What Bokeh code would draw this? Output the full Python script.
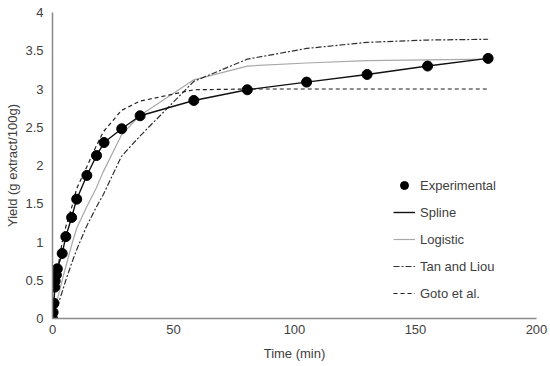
from bokeh.plotting import figure
from bokeh.models import Range1d, FixedTicker, Legend, LegendItem
from bokeh.embed import file_html
from bokeh.resources import INLINE

# Experimental data
t_exp = [0, 0.25, 0.6, 0.9, 1.1, 1.6, 2.0, 4.0, 5.5, 7.9, 10.0, 14.2, 18.2, 21.3, 28.6, 36.2, 58.4, 80.5, 105, 130, 155, 180]
y_exp = [0.0, 0.08, 0.20, 0.41, 0.49, 0.57, 0.65, 0.85, 1.07, 1.32, 1.56, 1.87, 2.13, 2.30, 2.48, 2.65, 2.85, 2.99, 3.09, 3.19, 3.30, 3.40]

# Model curves
t_model = [0, 1, 2, 4, 5.5, 8, 10, 14, 18, 21, 28.5, 36, 58.4, 80.5, 105, 130, 155, 180]
logistic = [0, 0.12, 0.25, 0.50, 0.68, 0.97, 1.18, 1.45, 1.70, 1.92, 2.40, 2.65, 3.12, 3.30, 3.34, 3.37, 3.38, 3.39]
tan_liou = [0, 0.07, 0.15, 0.35, 0.50, 0.73, 0.90, 1.20, 1.45, 1.62, 2.12, 2.38, 3.10, 3.39, 3.53, 3.61, 3.64, 3.65]
goto = [0, 0.38, 0.62, 1.00, 1.20, 1.46, 1.70, 1.97, 2.25, 2.44, 2.72, 2.84, 2.99, 3.00, 3.00, 3.00, 3.00, 3.00]

x_ticks = [0, 50, 100, 150, 200]
y_ticks = [0, 0.5, 1, 1.5, 2, 2.5, 3, 3.5, 4]
y_tick_labels = ["0", "0.5", "1", "1.5", "2", "2.5", "3", "3.5", "4"]

FONT = "Liberation Sans"
TXT = "#404040"

p = figure(width=550, height=366, output_backend="svg", toolbar_location=None,
           x_range=Range1d(0, 200), y_range=Range1d(0, 4),
           min_border_left=52, min_border_right=14, min_border_top=12, min_border_bottom=48)
p.outline_line_color = None
p.grid.visible = False

for ax in (p.xaxis[0], p.yaxis[0]):
    ax.axis_line_color = "#8a8a8a"
    ax.axis_line_width = 1.5
    ax.major_tick_line_color = None
    ax.minor_tick_line_color = None
    ax.major_tick_out = 0
    ax.major_tick_in = 0
    ax.minor_tick_out = 0
    ax.minor_tick_in = 0
    ax.major_label_text_font = FONT
    ax.major_label_text_font_size = "13px"
    ax.major_label_text_color = TXT
    ax.axis_label_text_font = FONT
    ax.axis_label_text_font_size = "13px"
    ax.axis_label_text_font_style = "normal"
    ax.axis_label_text_color = TXT

p.xaxis.ticker = FixedTicker(ticks=x_ticks)
p.yaxis.ticker = FixedTicker(ticks=y_ticks)
p.yaxis.major_label_overrides = {t: l for t, l in zip(y_ticks, y_tick_labels)}
p.xaxis.axis_label = "Time (min)"
p.yaxis.axis_label = "Yield (g extract/100g)"
p.xaxis.major_label_standoff = 6
p.yaxis.major_label_standoff = 9
p.xaxis.axis_label_standoff = 9
p.yaxis.axis_label_standoff = 2

r_log = p.line(t_model, logistic, line_color="#a8a8a8", line_width=1.2)
r_tan = p.line(t_model, tan_liou, line_color="#303030", line_width=1.2, line_dash="6 2 2 2")
r_goto = p.line(t_model, goto, line_color="#202020", line_width=1.2, line_dash="4 3")
r_spl = p.line(t_exp, y_exp, line_color="#111111", line_width=1.4)
r_exp = p.scatter(t_exp, y_exp, size=10, fill_color="black", line_color="black")

legend = Legend(items=[
    LegendItem(label="Experimental", renderers=[r_exp]),
    LegendItem(label="Spline", renderers=[r_spl]),
    LegendItem(label="Logistic", renderers=[r_log]),
    LegendItem(label="Tan and Liou", renderers=[r_tan]),
    LegendItem(label="Goto et al.", renderers=[r_goto]),
], location=(341, 15))
legend.border_line_color = None
legend.background_fill_alpha = 0
legend.padding = 0
legend.margin = 0
legend.spacing = 7
legend.glyph_width = 22
legend.glyph_height = 20
legend.label_height = 20
legend.label_standoff = 5
legend.label_text_font = FONT
legend.label_text_font_size = "13px"
legend.label_text_color = TXT
p.add_layout(legend)

open("out.html", "w").write(file_html(p, INLINE))
